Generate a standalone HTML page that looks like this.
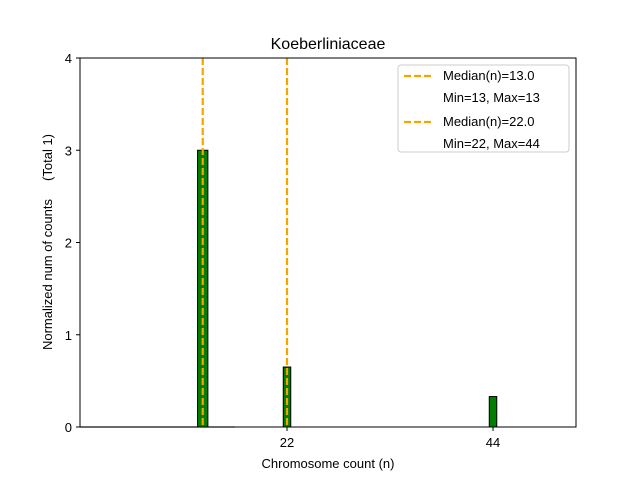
<!DOCTYPE html>
<html><head><meta charset="utf-8"><style>
body{margin:0;background:#fff;font-family:"Liberation Sans",sans-serif}
</style></head><body>
<svg id="chart" width="640" height="480" xmlns="http://www.w3.org/2000/svg" font-family="Liberation Sans, sans-serif">
<rect width="640" height="480" fill="#fff"/>
<text x="328" y="49" font-size="16" text-anchor="middle">Koeberliniaceae</text>
<g id="marks"></g>
<rect x="80" y="58" width="496" height="369" fill="none" stroke="#000" stroke-width="1"/>
<g id="axes"></g>
<text x="328" y="468" font-size="13" text-anchor="middle">Chromosome count (n)</text>
<text transform="translate(52,242) rotate(-90)" font-size="13" text-anchor="middle" style="white-space:pre">Normalized num of counts     (Total 1)</text>
<g>
<rect x="398" y="65" width="171" height="87" rx="3" fill="#fff" stroke="#ccc"/>
<line x1="404" y1="76" x2="432" y2="76" stroke="#f5a500" stroke-width="2.2" stroke-dasharray="7,3"/>
<text x="443" y="80" font-size="13">Median(n)=13.0</text>
<text x="443" y="102" font-size="13">Min=13, Max=13</text>
<line x1="404" y1="122" x2="432" y2="122" stroke="#f5a500" stroke-width="2.2" stroke-dasharray="7,3"/>
<text x="443" y="126" font-size="13">Median(n)=22.0</text>
<text x="443" y="148" font-size="13">Min=22, Max=44</text>
</g>
</svg>
<script>
const categories=[13,22,44];
const values=[3,0.65,0.33];
const barWidths=[1.1,0.8,0.8];
const medians=[13,22];
const yTicks=[0,1,2,3,4];
const xTicks=[22,44];
const NS="http://www.w3.org/2000/svg";
const X=v=>81+v*9.364, Y=v=>427-v*92.25;
const marks=document.getElementById('marks'), axes=document.getElementById('axes');
function mk(tag,attrs,parent){const e=document.createElementNS(NS,tag);for(const k in attrs)e.setAttribute(k,attrs[k]);parent.appendChild(e);return e;}
const base=mk('line',{x1:80,x2:235,y1:427,y2:427,stroke:'#aaa','stroke-width':1.5},marks);


categories.forEach((c,i)=>{
 const w=barWidths[i]*9.364;
 const r=mk('rect',{x:X(c)-w/2,y:Y(values[i]),width:w,height:Y(0)-Y(values[i]),fill:'#007f00',stroke:'#000','stroke-width':1},marks);
 
 
});
medians.forEach(m=>{
 const l=mk('line',{x1:X(m),x2:X(m),y1:Y(4),y2:Y(0),stroke:'#f5a500','stroke-width':2.2,'stroke-dasharray':'7,3'},marks);
 
 
});
yTicks.forEach(t=>{
 mk('line',{x1:76,x2:80,y1:Y(t),y2:Y(t),stroke:'#000'},axes);
 const tx=mk('text',{x:72,y:Y(t)+5,'font-size':13,'text-anchor':'end'},axes);tx.textContent=t;
 
 
});
xTicks.forEach(t=>{
 mk('line',{x1:X(t),x2:X(t),y1:427,y2:431,stroke:'#000'},axes);
 const tx=mk('text',{x:X(t),y:447,'font-size':13,'text-anchor':'middle'},axes);tx.textContent=t;
 
 
});
</script>
</body></html>
